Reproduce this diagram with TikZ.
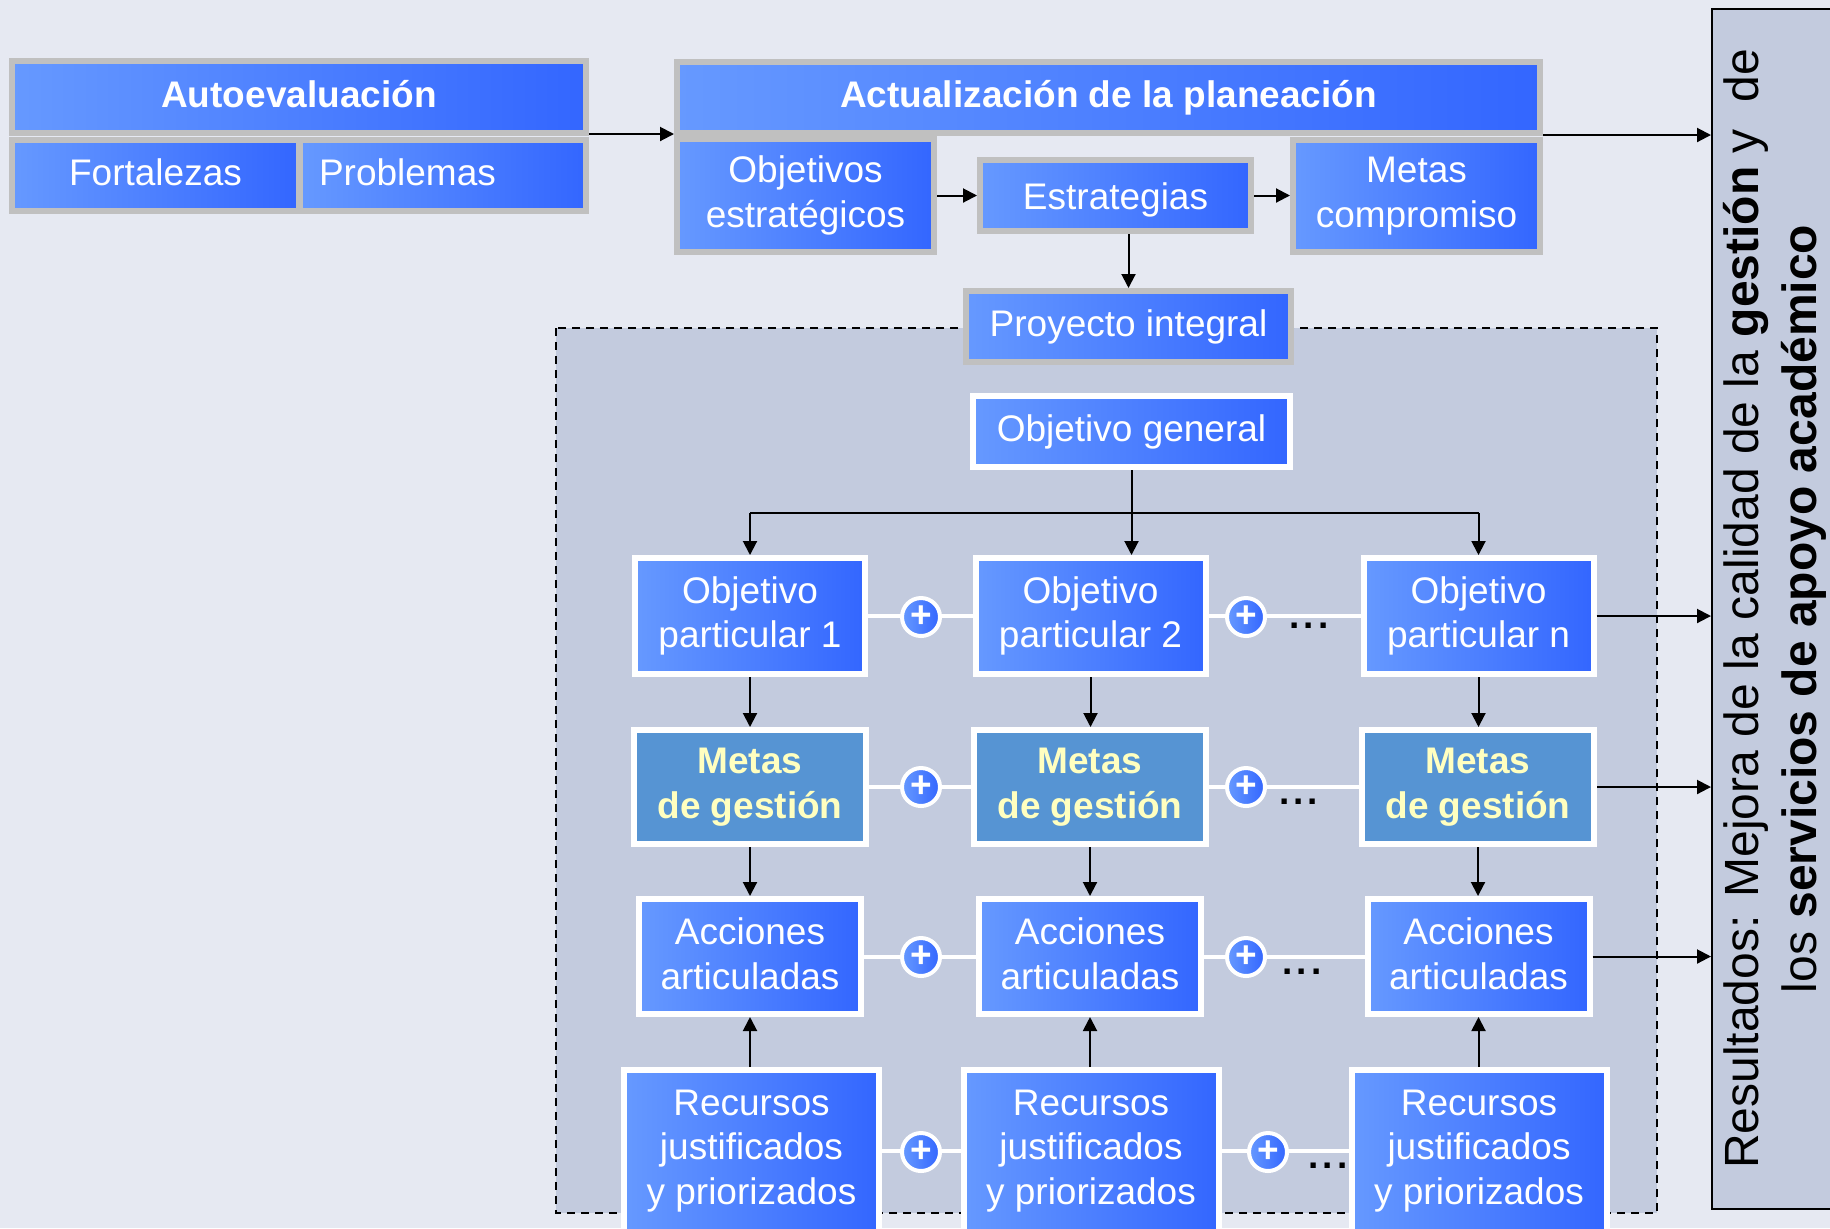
\documentclass[tikz,border=0pt]{standalone}
\usepackage{fontspec}
\setmainfont{Liberation Sans}
\usepackage{graphicx}
\usetikzlibrary{arrows.meta}
\definecolor{bgc}{HTML}{E6E9F2}
\definecolor{regc}{HTML}{C3CBDE}
\definecolor{bl1}{HTML}{6699FF}
\definecolor{bl2}{HTML}{3366FF}
\definecolor{grayb}{HTML}{C0C0C0}
\definecolor{mfill}{HTML}{5694D3}
\definecolor{ytext}{HTML}{FFFFC0}
\newcommand\fs{\fontsize{18.5}{22.2}\selectfont}
\begin{document}
\begin{tikzpicture}[x=0.5pt,y=-0.5pt,
  gbox/.style={draw=grayb, line width=3pt, left color=bl1, right color=bl2, text=white, inner sep=0pt, font=\fs, align=center},
  wbox/.style={draw=white, line width=3pt, left color=bl1, right color=bl2, text=white, inner sep=0pt, font=\fs, align=center},
  mbox/.style={draw=white, line width=3pt, fill=mfill, text=ytext, inner sep=0pt, font=\fs\bfseries, align=center},
  one/.style={text height=14.4pt, text depth=4.1pt},
  sz/.style 2 args={minimum width=#1, minimum height=#2},
  arr/.style={-{Triangle[length=7pt,width=7pt]}, line width=1pt, black},
  wline/.style={white, line width=2pt},
  plus/.style={circle, draw=white, line width=2pt, left color=bl1, right color=bl2, minimum size=19pt, inner sep=0pt, text=white, font=\fs\bfseries},
  dotsn/.style={font=\fs\bfseries, inner sep=0pt, text=black},
  region/.style={fill=regc, draw=black, line width=1pt, dash pattern=on 4pt off 3pt},
  resbox/.style={fill=regc, draw=black, line width=1pt, inner sep=0pt}
]
\useasboundingbox (0,0) rectangle (1830,1228);
\clip (0,0) rectangle (1830,1228);
\fill[bgc] (0,0) rectangle (1830,1228);

% dashed project region
\path[region] (556,328) rectangle (1657,1213);

% results box
\node[resbox, sz={64pt}{600pt}] (res) at (1776,609)
  {\rotatebox{90}{\fontsize{24}{29}\selectfont\begin{tabular}{@{}c@{}}Resultados: Mejora de la calidad de la \textbf{gestión} y\ \ de\\ los \textbf{servicios de apoyo académico}\end{tabular}}};

% top part
\node[gbox, one, sz={287pt}{36pt}, font=\fs\bfseries] (auto) at (299,97) {Autoevaluación};
\node[gbox, one, sz={143.5pt}{35.5pt}] (fort) at (155.5,175.5) {Fortalezas};
\node[gbox, one, sz={143pt}{35.5pt}, inner xsep=9.5pt, text width=124pt, align=left] (prob) at (443,175.5) {Problemas};
\node[gbox, sz={128.5pt}{56.5pt}] (objest) at (805.5,195.5) {Objetivos\\estratégicos};
\node[gbox, sz={123.5pt}{56pt}] (metasc) at (1416.5,196) {Metas\\compromiso};
\node[gbox, one, sz={431.5pt}{35.5pt}, font=\fs\bfseries] (act) at (1108.5,97.5) {Actualización de la planeación};
\node[gbox, sz={135.5pt}{35.5pt}, text height=16.5pt, text depth=2.1pt] (estr) at (1115.5,195.5) {Estrategias};
\node[gbox, one, sz={162.5pt}{35.5pt}] (proy) at (1128.5,326.5) {Proyecto integral};

\draw[arr] ([yshift=1pt]auto.south east) -- ([yshift=1pt]auto.south east -| act.west);
\draw[arr] ([yshift=0.5pt]act.south east) -- ([yshift=0.5pt]act.south east -| res.west);
\draw[arr] (objest.east) -- (objest.east -| estr.west);
\draw[arr] (estr.east) -- (estr.east -| metasc.west);
\draw[arr] (proy.north |- estr.south) -- (proy.north);

% lower grid
\node[wbox, one, sz={158.5pt}{35.5pt}] (og) at (1131.5,431.5) {Objetivo general};

\node[wbox, sz={115pt}{58pt}] (o1) at (750,616) {Objetivo\\particular 1};
\node[wbox, sz={115pt}{58pt}] (o2) at (1090.5,616) {Objetivo\\particular 2};
\node[wbox, sz={115pt}{58pt}] (o3) at (1478.5,616) {Objetivo\\particular n};

\node[mbox, sz={116pt}{57pt}] (m1) at (750,787) {Metas\\de gestión};
\node[mbox, sz={116pt}{57pt}] (m2) at (1090,787) {Metas\\de gestión};
\node[mbox, sz={116pt}{57pt}] (m3) at (1478,787) {Metas\\de gestión};

\node[wbox, sz={111pt}{57.5pt}, text depth=3pt] (a1) at (750,956.5) {Acciones\\articuladas};
\node[wbox, sz={111pt}{57.5pt}, text depth=3pt] (a2) at (1090,956.5) {Acciones\\articuladas};
\node[wbox, sz={111pt}{57.5pt}, text depth=3pt] (a3) at (1478.5,956.5) {Acciones\\articuladas};

\node[wbox, sz={127.5pt}{81pt}] (r1) at (751.5,1151) {Recursos\\justificados\\y priorizados};
\node[wbox, sz={127.5pt}{81pt}] (r2) at (1091,1151) {Recursos\\justificados\\y priorizados};
\node[wbox, sz={127.5pt}{81pt}] (r3) at (1479,1151) {Recursos\\justificados\\y priorizados};

% white connecting lines
\draw[wline] (o1.east) -- (o2.west);
\draw[wline] (o2.east) -- (o3.west);
\draw[wline] (m1.east) -- (m2.west);
\draw[wline] (m2.east) -- (m3.west);
\draw[wline] (a1.east) -- (a2.west);
\draw[wline] (a2.east) -- (a3.west);
\draw[wline] (r1.east) -- (r2.west);
\draw[wline] (r2.east) -- (r3.west);

% plus signs
\node[plus] (p11) at (921,617) {+};
\node[plus] (p12) at (1246,617) {+};
\node[plus] (p21) at (921,787) {+};
\node[plus] (p22) at (1246,787) {+};
\node[plus] (p31) at (921,957) {+};
\node[plus] (p32) at (1246,957) {+};
\node[plus] (p41) at (921,1152) {+};
\node[plus] (p42) at (1268,1152) {+};

\node[dotsn] (d1) at (1309,626) {.\kern2pt.\kern2pt.};
\node[dotsn] (d2) at (1298.5,802) {.\kern2pt.\kern2pt.};
\node[dotsn] (d3) at (1302,972) {.\kern2pt.\kern2pt.};
\node[dotsn] (d4) at (1328,1166) {.\kern2pt.\kern2pt.};

% arrows in grid
\coordinate (bus) at (1131.5,513);
\draw[arr] (og.south) -- (og.south |- o2.north);
\draw[line width=1pt] (o1.north |- bus) -- (o3.north |- bus);
\draw[arr] (bus -| o1.north) -- (o1.north);
\draw[arr] (bus -| o3.north) -- (o3.north);

\draw[arr] (o1.south) -- (m1.north);
\draw[arr] (o2.south) -- (o2.south |- m2.north);
\draw[arr] (o3.south) -- (o3.south |- m3.north);
\draw[arr] (m1.south) -- (m1.south |- a1.north);
\draw[arr] (m2.south) -- (m2.south |- a2.north);
\draw[arr] (m3.south) -- (m3.south |- a3.north);
\draw[arr] (a1.south |- r1.north) -- (a1.south);
\draw[arr] (a2.south |- r2.north) -- (a2.south);
\draw[arr] (a3.south |- r3.north) -- (a3.south);

\draw[arr] (o3.east) -- (o3.east -| res.west);
\draw[arr] (m3.east) -- (m3.east -| res.west);
\draw[arr] (a3.east) -- (a3.east -| res.west);
\end{tikzpicture}
\end{document}
